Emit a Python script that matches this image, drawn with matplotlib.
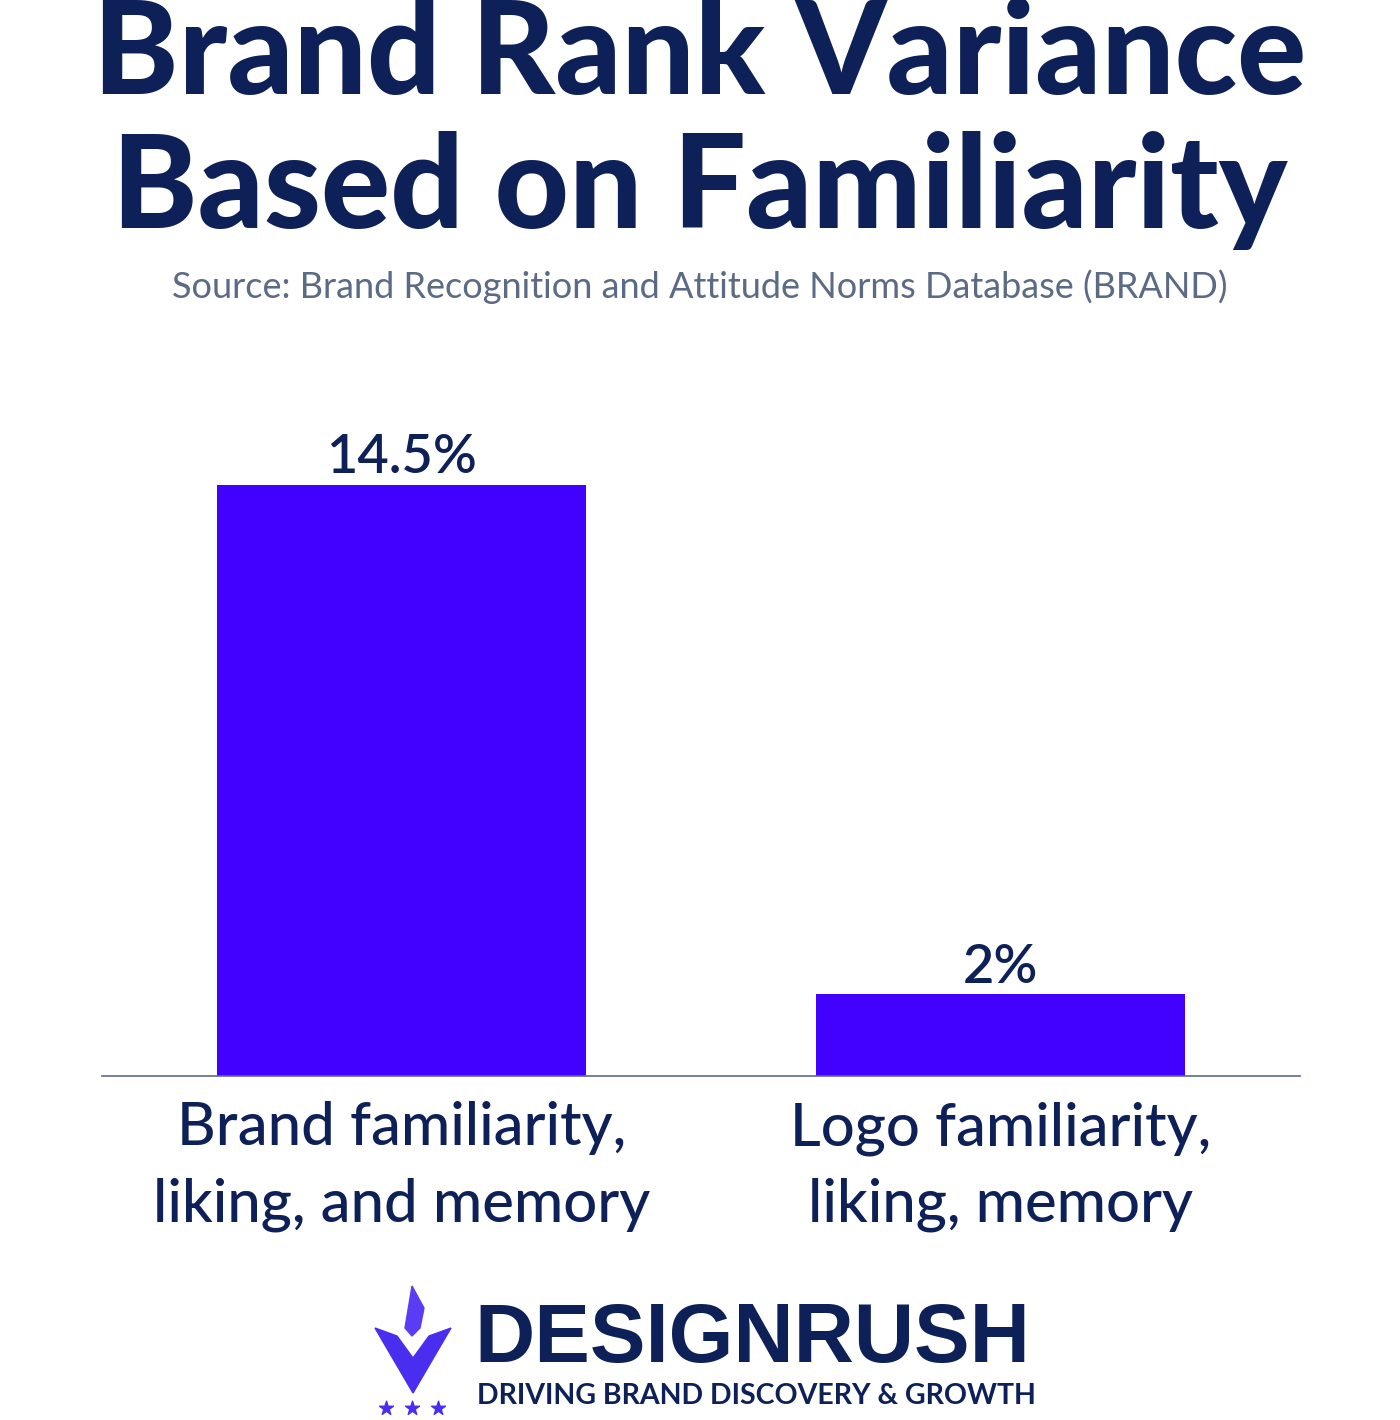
import matplotlib.pyplot as plt
from matplotlib.patches import Polygon

categories = ['Brand familiarity,\nliking, and memory', 'Logo familiarity,\nliking, memory']
values = [14.5, 2]
value_labels = ['14.5%', '2%']

navy = '#0d2158'
purple = '#4200ff'
grey = '#5b6b85'

fig = plt.figure(figsize=(14, 14.2), dpi=100)
fig.patch.set_facecolor('white')

# titel + bron
fig.text(0.5, 0.960, 'Brand Rank Variance', ha='center', va='center',
         fontsize=93, fontweight='black', color=navy, family='Lato')
fig.text(0.5, 0.866, 'Based on Familiarity', ha='center', va='center',
         fontsize=93, fontweight='black', color=navy, family='Lato')
fig.text(0.5, 0.798, 'Source: Brand Recognition and Attitude Norms Database (BRAND)',
         ha='center', va='center', fontsize=26, color=grey, family='Lato')

ax = fig.add_axes([102 / 1400, (1420 - 1076) / 1420, 1198 / 1400, 656 / 1420])
x = list(range(len(values)))
bars = ax.bar(x, values, width=0.616, color=purple)
ax.set_xlim(-0.5, 1.5)
ax.set_ylim(0, 16.09)

for xi, v, lab in zip(x, values, value_labels):
    ax.annotate(lab, (xi, v), xytext=(0, 2), textcoords='offset points',
                ha='center', va='bottom', fontsize=39, color=navy, family='Lato',
                fontweight='semibold')

for side in ['top', 'right', 'left']:
    ax.spines[side].set_visible(False)
ax.spines['bottom'].set_color(grey)
ax.spines['bottom'].set_linewidth(1.2)
ax.set_yticks([])
ax.set_xticks(x)
ax.set_xticklabels(categories, fontsize=43, color=navy, family='Lato',
                   linespacing=1.5, fontweight='medium')
ax.tick_params(axis='x', length=0, pad=18)

# logo onderaan
lax = fig.add_axes([0, 0, 1, 0.1])
lax.set_xlim(0, 1400)
lax.set_ylim(142, 0)
lax.axis('off')
lax.add_patch(Polygon([[375, 50], [397, 58], [413, 80], [429, 58], [451, 50], [413, 115]],
                      closed=True, color='#4a2ef0'))
lax.add_patch(Polygon([[405, 50], [412, 8], [424, 30], [420, 50], [412, 58]],
                      closed=True, color='#5b3cf5'))
lax.scatter([386, 412, 438], [130, 130, 130], marker='*', s=110, color='#4a2ef0')
lax.text(474, 62, 'DESIGNRUSH', ha='left', va='center', fontsize=60,
         fontweight='bold', color=navy, family='Liberation Sans')
lax.text(477, 118, 'DRIVING BRAND DISCOVERY & GROWTH', ha='left', va='center',
         fontsize=20.5, fontweight='bold', color=navy, family='Lato')

fig.savefig('out.png', dpi=100, facecolor='white')
